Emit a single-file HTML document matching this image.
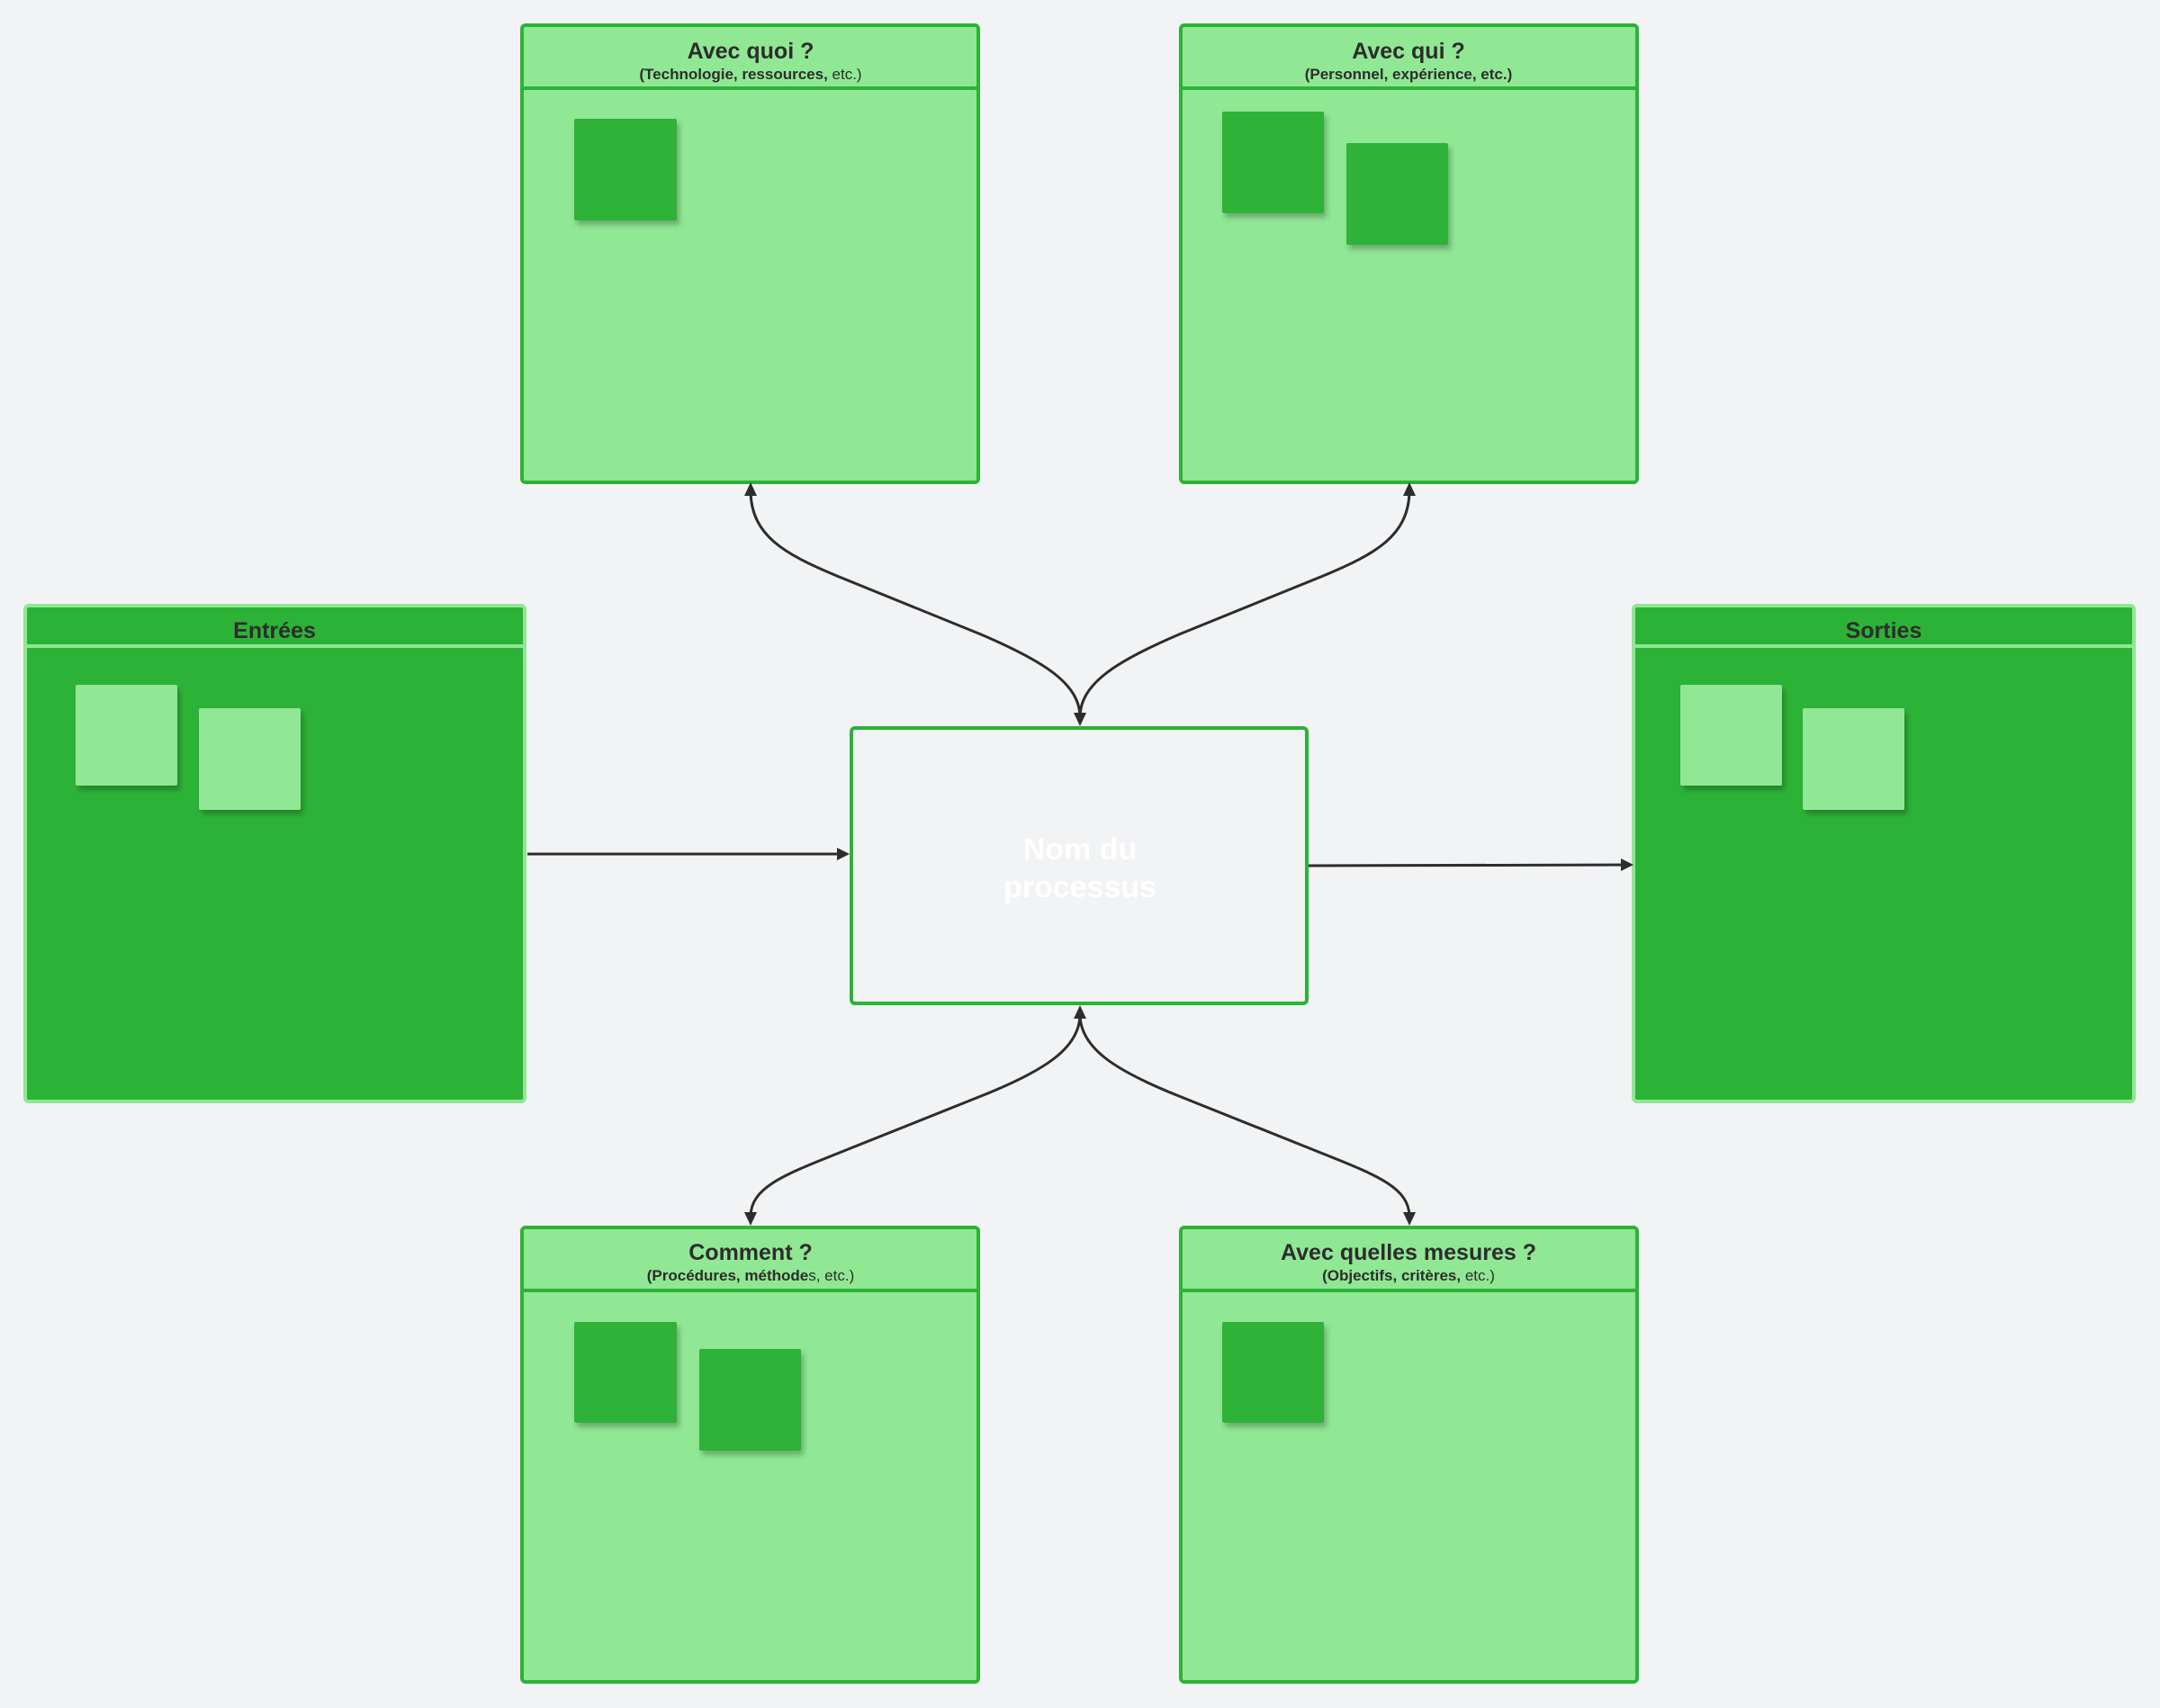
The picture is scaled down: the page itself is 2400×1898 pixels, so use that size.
<!DOCTYPE html>
<html><head><meta charset="utf-8"><style>
html,body{margin:0;padding:0;background:#f2f3f5;}
svg{display:block;}
text{font-family:"Liberation Sans",sans-serif;}
</style></head><body>
<svg width="2400" height="1898" viewBox="0 0 2400 1898" xmlns="http://www.w3.org/2000/svg">
<defs>
<marker id="ah" viewBox="0 0 10 10" refX="9" refY="5" markerWidth="6" markerHeight="6" orient="auto-start-reverse" markerUnits="userSpaceOnUse">
</marker>
<filter id="sh" x="-20%" y="-20%" width="150%" height="150%"><feDropShadow dx="3" dy="5" stdDeviation="3" flood-color="#000" flood-opacity="0.25"/></filter>
</defs>
<rect width="2400" height="1898" fill="#f2f3f5"/>

<!-- Top boxes -->
<g>
<rect x="580" y="28" width="507" height="508" rx="4" fill="#90e794" stroke="#2db238" stroke-width="4"/>
<line x1="580" y1="98" x2="1087" y2="98" stroke="#2db238" stroke-width="4"/>
<text x="834" y="65" text-anchor="middle" font-size="25" font-weight="bold" fill="#2d2d2d">Avec quoi ?</text>
<text x="834" y="88" text-anchor="middle" font-size="17" fill="#2d2d2d"><tspan font-weight="bold">(Technologie, ressources,</tspan> etc.)</text>
<rect x="638" y="132" width="114" height="113" rx="2" fill="#2db238" filter="url(#sh)"/>
</g>
<g>
<rect x="1312" y="28" width="507" height="508" rx="4" fill="#90e794" stroke="#2db238" stroke-width="4"/>
<line x1="1312" y1="98" x2="1819" y2="98" stroke="#2db238" stroke-width="4"/>
<text x="1565" y="65" text-anchor="middle" font-size="25" font-weight="bold" fill="#2d2d2d">Avec qui ?</text>
<text x="1565" y="88" text-anchor="middle" font-size="17" font-weight="bold" fill="#2d2d2d">(Personnel, expérience, etc.)</text>
<rect x="1358" y="124" width="113" height="113" rx="2" fill="#2db238" filter="url(#sh)"/>
<rect x="1496" y="159" width="113" height="113" rx="2" fill="#2db238" filter="url(#sh)"/>
</g>

<!-- Side boxes -->
<g>
<rect x="28" y="673" width="555" height="551" rx="4" fill="#2db238" stroke="#90e794" stroke-width="4"/>
<line x1="28" y1="718" x2="583" y2="718" stroke="#90e794" stroke-width="4"/>
<text x="305" y="709" text-anchor="middle" font-size="25" font-weight="bold" fill="#2d2d2d">Entrées</text>
<rect x="84" y="761" width="113" height="112" rx="2" fill="#90e794" filter="url(#sh)"/>
<rect x="221" y="787" width="113" height="113" rx="2" fill="#90e794" filter="url(#sh)"/>
</g>
<g>
<rect x="1815" y="673" width="556" height="551" rx="4" fill="#2db238" stroke="#90e794" stroke-width="4"/>
<line x1="1815" y1="718" x2="2371" y2="718" stroke="#90e794" stroke-width="4"/>
<text x="2093" y="709" text-anchor="middle" font-size="25" font-weight="bold" fill="#2d2d2d">Sorties</text>
<rect x="1867" y="761" width="113" height="112" rx="2" fill="#90e794" filter="url(#sh)"/>
<rect x="2003" y="787" width="113" height="113" rx="2" fill="#90e794" filter="url(#sh)"/>
</g>

<!-- Bottom boxes -->
<g>
<rect x="580" y="1364" width="507" height="505" rx="4" fill="#90e794" stroke="#2db238" stroke-width="4"/>
<line x1="580" y1="1434" x2="1087" y2="1434" stroke="#2db238" stroke-width="4"/>
<text x="834" y="1400" text-anchor="middle" font-size="25" font-weight="bold" fill="#2d2d2d">Comment ?</text>
<text x="834" y="1423" text-anchor="middle" font-size="17" fill="#2d2d2d"><tspan font-weight="bold">(Procédures, méthode</tspan>s, etc.)</text>
<rect x="638" y="1469" width="114" height="112" rx="2" fill="#2db238" filter="url(#sh)"/>
<rect x="777" y="1499" width="113" height="113" rx="2" fill="#2db238" filter="url(#sh)"/>
</g>
<g>
<rect x="1312" y="1364" width="507" height="505" rx="4" fill="#90e794" stroke="#2db238" stroke-width="4"/>
<line x1="1312" y1="1434" x2="1819" y2="1434" stroke="#2db238" stroke-width="4"/>
<text x="1565" y="1400" text-anchor="middle" font-size="25" font-weight="bold" fill="#2d2d2d">Avec quelles mesures ?</text>
<text x="1565" y="1423" text-anchor="middle" font-size="17" fill="#2d2d2d"><tspan font-weight="bold">(Objectifs, critères,</tspan> etc.)</text>
<rect x="1358" y="1469" width="113" height="112" rx="2" fill="#2db238" filter="url(#sh)"/>
</g>

<!-- Center -->
<rect x="946" y="809" width="506" height="306" rx="4" fill="#f2f3f5" stroke="#2db238" stroke-width="4"/>
<text x="1200" y="955" text-anchor="middle" font-size="34" font-weight="bold" fill="#ffffff">Nom du</text>
<text x="1200" y="997" text-anchor="middle" font-size="34" font-weight="bold" fill="#ffffff">processus</text>

<!-- Connectors -->
<g fill="none" stroke="#2d2d2d" stroke-width="3">
<path d="M586 949 L932 949"/>
<path d="M1454 962 L1806 961"/>
<path d="M834 548 C836 595 870 615 930 640 L1090 705 C1160 735 1200 760 1200 797"/>
<path d="M1566 548 C1564 595 1530 615 1470 640 L1310 705 C1240 735 1200 760 1200 797"/>
<path d="M1200 1127 C1200 1165 1160 1190 1090 1218 L930 1282 C870 1306 834 1320 834 1352"/>
<path d="M1200 1127 C1200 1165 1240 1190 1310 1218 L1470 1282 C1530 1306 1566 1320 1566 1352"/>
</g>
<g fill="#2d2d2d">
<polygon points="944,949 930,942 930,956"/>
<polygon points="1815,961 1801,954 1801,968"/>
<polygon points="834,536 827,551 841,551"/>
<polygon points="1566,536 1559,551 1573,551"/>
<polygon points="1200,807 1193,792 1207,792"/>
<polygon points="1200,1117 1193,1132 1207,1132"/>
<polygon points="834,1362 827,1347 841,1347"/>
<polygon points="1566,1362 1559,1347 1573,1347"/>
</g>
</svg>
</body></html>
